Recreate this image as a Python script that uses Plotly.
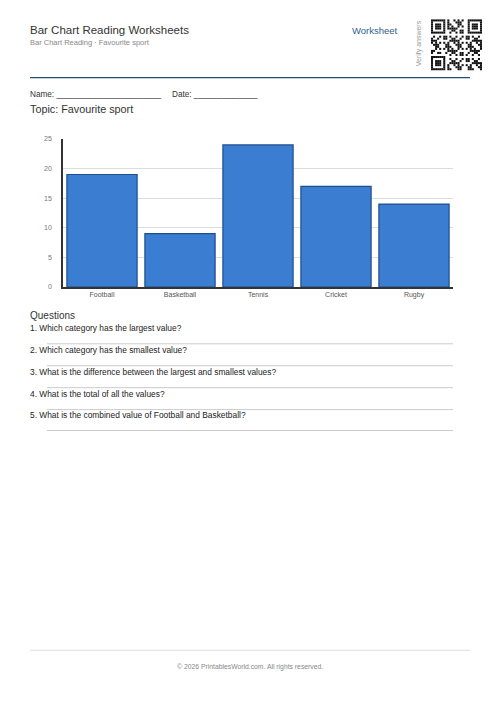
import plotly.graph_objects as go

categories = ["Football", "Basketball", "Tennis", "Cricket", "Rugby"]
values = [19, 9, 24, 17, 14]
y_ticks = [0, 5, 10, 15, 20, 25]

title = "Bar Chart Reading Worksheets"
subtitle = "Bar Chart Reading · Favourite sport"
topic = "Topic: Favourite sport"
questions = [
    "1. Which category has the largest value?",
    "2. Which category has the smallest value?",
    "3. What is the difference between the largest and smallest values?",
    "4. What is the total of all the values?",
    "5. What is the combined value of Football and Basketball?",
]

OFF = 8  # default page body margin
W, H = 500 - 2 * OFF, 708 - 2 * OFF
# plot area in page pixels
PL, PR, PT, PB = 63, 453, 139, 287.5

def px(x):
    return (x - PL) / (PR - PL)

def py(y):
    return (PB - y) / (PB - PT)

FONT = "Liberation Sans, Arial, Helvetica, sans-serif"

fig = go.Figure()
fig.add_trace(go.Bar(
    x=categories, y=values,
    marker=dict(color="#3b7dd1", line=dict(color="#1f4e8c", width=1.2)),
    hoverinfo="x+y",
))

annotations = []
shapes = []

def text(x, y, s, size, color, anchor="left", **kw):
    annotations.append(dict(
        x=px(x), y=py(y), xref="paper", yref="paper", text=s, showarrow=False,
        xanchor=anchor, yanchor="middle", font=dict(family=FONT, size=size, color=color), **kw))

def hline(x0, x1, y, color, width=1):
    shapes.append(dict(type="line", xref="paper", yref="paper", x0=px(x0), x1=px(x1),
                       y0=py(y), y1=py(y), line=dict(color=color, width=width)))

# header
text(28, 29.5, title, 11.5, "#333333")
text(28, 42.5, subtitle, 7.5, "#888888")
text(400, 30, "Worksheet", 9.5, "#2f5f8f", anchor="right")
text(419, 43, "Verify answers", 7, "#999999", anchor="center", textangle=-90)
hline(30, 470, 77.5, "#1f4e79", 1.2)

# QR-like decoration
N = 25
qx0, qy0, qs = 431, 19, 51
m = qs / N
def finder(i, j, r, c):
    di, dj = i - r, j - c
    if 0 <= di < 7 and 0 <= dj < 7:
        if di in (0, 6) or dj in (0, 6):
            return True
        if 2 <= di <= 4 and 2 <= dj <= 4:
            return True
        return False
    return None
for i in range(N):
    for j in range(N):
        on = None
        for (r, c) in [(0, 0), (0, N - 7), (N - 7, 0)]:
            f = finder(i, j, r, c)
            if f is not None:
                on = f
        if on is None:
            if (i == 7 and j < 8) or (j == 7 and i < 8) or (i == 7 and j >= N - 8) or (j == N - 8 and i < 8) or (i == N - 8 and j < 8) or (j == 7 and i >= N - 8):
                on = False
            else:
                on = ((i * 31 + j * 17 + i * j * 7) % 11) < 5
        if on:
            shapes.append(dict(type="rect", xref="paper", yref="paper",
                               x0=px(qx0 + j * m), x1=px(qx0 + (j + 1) * m),
                               y0=py(qy0 + (i + 1) * m), y1=py(qy0 + i * m),
                               fillcolor="#111111", line=dict(width=0)))

# name/date/topic
text(28, 94, "Name: _______________________", 8.2, "#333333")
text(170, 94, "Date: ______________", 8.2, "#333333")
text(28, 109, topic, 10.8, "#333333")

# questions
text(28, 316, "Questions", 10, "#333333")
qy = [329, 351, 373, 395, 416]
for q, y in zip(questions, qy):
    text(28, y, q, 8.4, "#222222")
    hline(47, 453, y + 15.5, "#cccccc", 1)

# footer
hline(30, 470, 652, "#dddddd", 1)
text(250, 669, "© 2026 PrintablesWorld.com. All rights reserved.", 6.8, "#888888", anchor="center")

fig.update_layout(
    width=W, height=H,
    margin=dict(l=PL - OFF, r=W - (PR - OFF), t=PT - OFF, b=H - (PB - OFF), pad=0),
    paper_bgcolor="white", plot_bgcolor="white",
    showlegend=False, bargap=0.1,
    font=dict(family=FONT),
    annotations=annotations, shapes=shapes,
    xaxis=dict(showgrid=False, showline=True, linecolor="#333333", linewidth=1.5,
               tickfont=dict(size=7, color="#555555"), ticks="", fixedrange=True),
    yaxis=dict(range=[0, 25], tickvals=y_ticks, showgrid=True, gridcolor="#dddddd", gridwidth=1,
               showline=True, linecolor="#333333", linewidth=1.5, zeroline=False,
               tickfont=dict(size=7, color="#777777"), ticks="", ticklabelstandoff=8,
               fixedrange=True),
)

fig.write_html("out.html")
